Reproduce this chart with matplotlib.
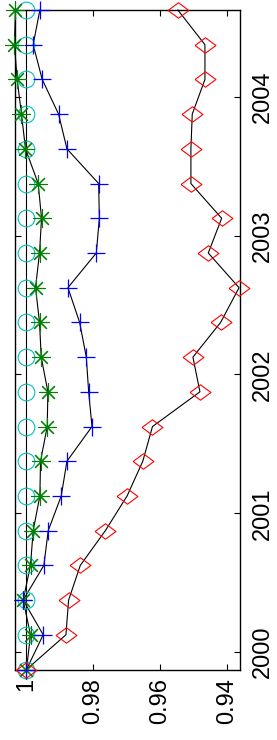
import numpy as np
import matplotlib
matplotlib.use('Agg')
import matplotlib.pyplot as plt

plt.rcParams['font.family'] = ['Liberation Sans', 'DejaVu Sans']

# quarterly time stamps
t = [1999.875, 2000.125, 2000.375, 2000.625, 2000.875,
     2001.125, 2001.375, 2001.625, 2001.875, 2002.125,
     2002.375, 2002.625, 2002.875, 2003.125, 2003.375,
     2003.625, 2003.875, 2004.125, 2004.375, 2004.625]

cyan_c = [1.0] * 20
green_s = [1.0, 0.9988, 1.0010, 0.9988, 0.9980, 0.9960, 0.9958, 0.9938, 0.9936, 0.9956,
           0.9961, 0.9973, 0.9961, 0.9955, 0.9965, 1.0003, 1.0015, 1.0028, 1.0036, 1.0033]
blue_p = [1.0, 0.9950, 1.0010, 0.9948, 0.9935, 0.9896, 0.9879, 0.9804, 0.9814, 0.9821,
          0.9841, 0.9876, 0.9791, 0.9782, 0.9784, 0.9879, 0.9904, 0.9953, 0.9980, 0.9960]
red_d = [1.0, 0.9882, 0.9874, 0.9839, 0.9764, 0.9699, 0.9652, 0.9623, 0.9481, 0.9502,
         0.9419, 0.9364, 0.9456, 0.9416, 0.9508, 0.9508, 0.9504, 0.9466, 0.9466, 0.9547]

xticks = [1.0, 0.98, 0.96, 0.94]
xticklabels = ['1', '0.98', '0.96', '0.94']
yticks = [2000, 2001, 2002, 2003, 2004]

fig = plt.figure(figsize=(2.77, 7.40), dpi=100)
ax = fig.add_axes([15/277, (740-669.5)/740, 225/277, 659.5/740])

diamond = [(-1.35, 0), (0, 1), (1.35, 0), (0, -1), (-1.35, 0)]

series = [
    (cyan_c, 'o', (0, 0.75, 0.75), 12, 0.8),
    (green_s, (8, 2, 0), (0, 0.5, 0), 13, 0.8),
    (blue_p, '+', (0, 0, 1), 13, 0.9),
    (red_d, diamond, (1, 0, 0), 15, 0.8),
]
for vals, m, col, ms, mew in series:
    ax.plot(vals, t, color='k', linewidth=0.8, clip_on=False, zorder=2)
    ax.plot(vals, t, linestyle='none', marker=m, markersize=ms,
            markerfacecolor='none', markeredgecolor=col, markeredgewidth=mew,
            clip_on=False, zorder=3)

ax.set_xlim(1.00344, 0.93611)
ax.set_ylim(1999.875, 2004.625)

ax.set_xticks(xticks)
ax.set_xticklabels(xticklabels, rotation=90, fontsize=17)
ax.set_yticks(yticks)
ax.set_yticklabels([str(y) for y in yticks], rotation=90, fontsize=17, va='center', ha='left')
ax.yaxis.tick_right()

ax.tick_params(direction='in', length=4.5, width=0.8, top=True, bottom=True,
               left=True, right=True, labelleft=False, labelright=True)
ax.tick_params(axis='x', pad=6)
ax.tick_params(axis='y', pad=8.5)
for s in ax.spines.values():
    s.set_linewidth(1.0)

fig.savefig('out.png', dpi=100)
